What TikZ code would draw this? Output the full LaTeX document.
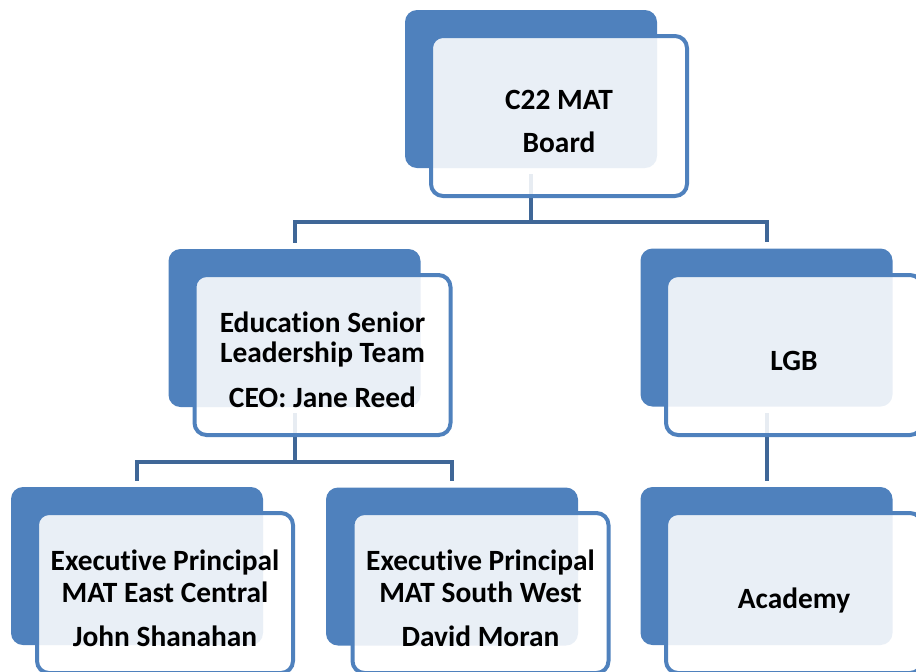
\documentclass[tikz,border=0pt]{standalone}
\usepackage{fontspec}
\setmainfont{Carlito}[Ligatures=NoCommon]
\definecolor{boxblue}{HTML}{4F81BD}
\definecolor{lineblue}{HTML}{3F6797}
% text lines of a box, set a little below its centre
\newcommand{\boxlines}[1]{\raisebox{-4.5pt}[\height][\depth]{\begin{tabular}{@{}c@{}}#1\end{tabular}}}

\begin{document}
\begin{tikzpicture}[x=0.5pt,y=-0.5pt]
\useasboundingbox (0,0) rectangle (916,671);
\clip (0,0) rectangle (916,671);

\begin{scope}[every node/.style={fill=boxblue,rounded corners=6pt,inner sep=0pt,
                                 minimum width=126pt,minimum height=79pt}]
    \node (BoardB) at (531,89) {};

    \node (ESLTB) at (294.5,328) {};
    \node (LGBB) at (766.5,327.5) {};

    \node (EastB) at (137,566) {};
    \node (SouthB) at (452,566.5) {};
    \node (AcadB) at (766.5,566) {};
\end{scope}

\begin{scope}[every path/.style={draw=lineblue,line width=2pt,shorten <=3pt,shorten >=3pt}]
    \path (BoardB.south) -- ++(0,54) -| (ESLTB.north);
    \path (BoardB.south) -- ++(0,54) -| (LGBB.north);

    \path (ESLTB.south) -- ++(0,55) -| (EastB.north);
    \path (ESLTB.south) -- ++(0,55) -| (SouthB.north);

    \path (LGBB.south) -- (AcadB.north);
\end{scope}

\begin{scope}[every node/.style={draw=boxblue,line width=2pt,rounded corners=6pt,
                                 fill=white,fill opacity=0.88,text opacity=1,
                                 minimum width=128pt,minimum height=80pt,inner sep=0pt,
                                 font=\bfseries\fontsize{14.7}{16}\selectfont}]
    \node (Board) at (559,116) {\boxlines{C22 MAT\\[5.5pt]Board}};

    \node (ESLT) at (322.5,355) {\boxlines{Education Senior\\[-1pt]Leadership Team\\[6.5pt]CEO: Jane Reed}};
    \node (LGB) at (794,355) {\boxlines{LGB}};

    \node (East) at (165,593) {\boxlines{Executive Principal\\MAT East Central\\[6pt]John Shanahan}};
    \node (South) at (480.5,593) {\boxlines{Executive Principal\\MAT South West\\[6pt]David Moran}};
    \node (Acad) at (794,593) {\boxlines{Academy}};
\end{scope}
\end{tikzpicture}
\end{document}
